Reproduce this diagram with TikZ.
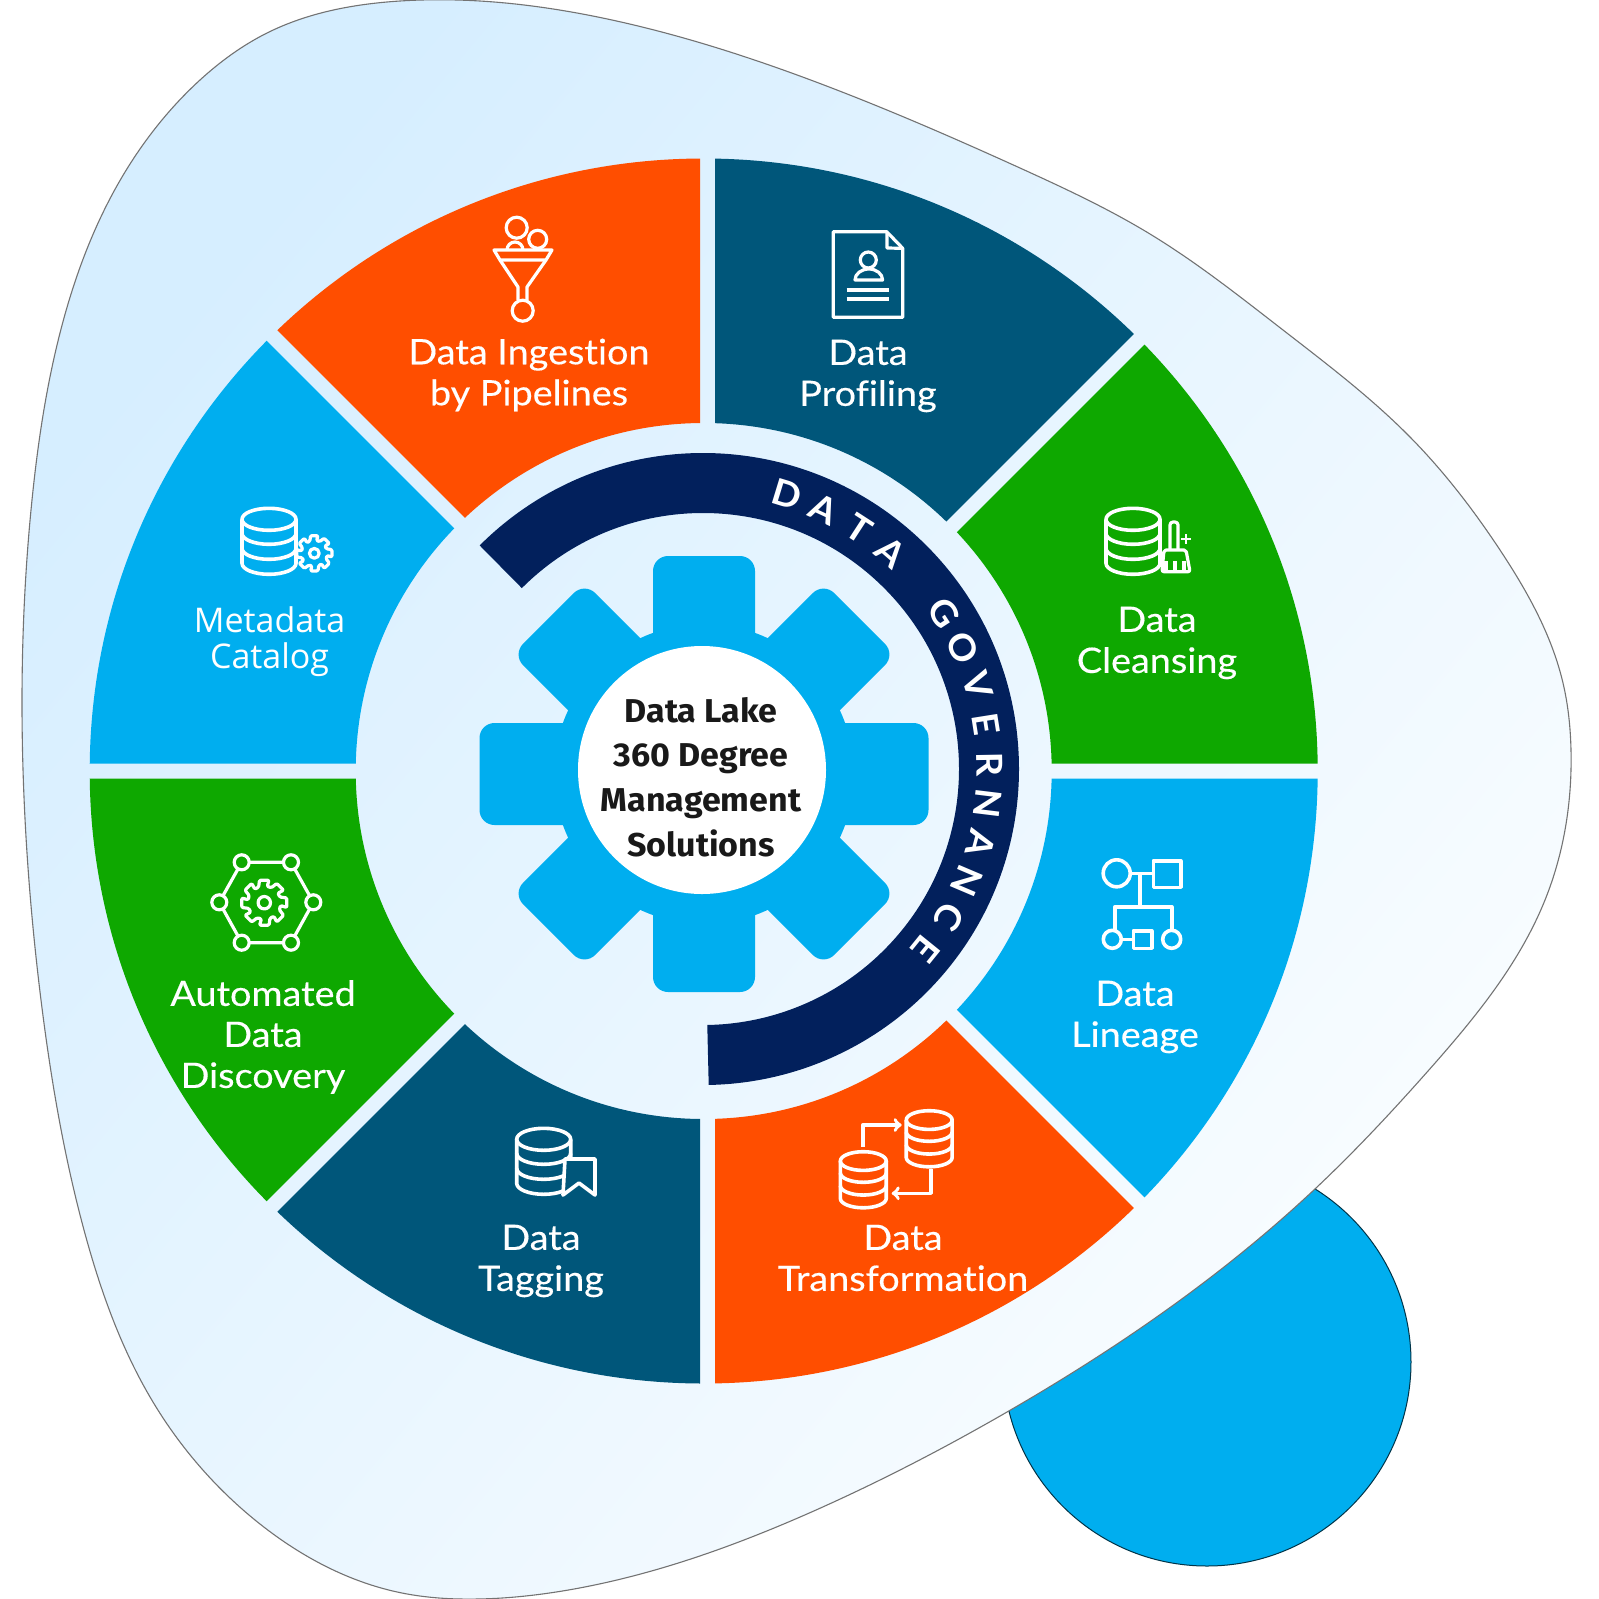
\documentclass[tikz,border=0pt]{standalone}
\usepackage{fontspec}
\usetikzlibrary{hobby}
\setmainfont{Lato}[FakeStretch=1.08, FakeBold=0.3, Ligatures=NoCommon]
\newfontfamily\ringfont{Lato}[FakeStretch=1.05]
\newfontfamily\metafont{Open Sans}
\newfontfamily\hubfont{Fira Sans}[FakeStretch=1.03]
\definecolor{segorange}{HTML}{FF4E00}
\definecolor{segteal}{HTML}{00567A}
\definecolor{seggreen}{HTML}{0EA800}
\definecolor{segblue}{HTML}{00AEEF}
\definecolor{ringnavy}{HTML}{02205C}
\definecolor{blobleft}{HTML}{D6EEFF}
\definecolor{blobright}{HTML}{FAFDFF}
\tikzset{
    seglabel/.style={text=white, align=center, font=\fontsize{35}{41}\selectfont},
    iconline/.style={draw=white, line width=3.6pt, line join=round},
    iconthin/.style={draw=white, line width=3.2pt, line join=round},
}
% database stack, top centre at (#1,#2)
\newcommand{\dbicon}[3]{
    \begin{scope}[shift={(#1,#2)}, scale=#3]
        \draw[iconline] (0,11) ellipse [x radius=27pt, y radius=11pt];
        \draw[iconline] (-27,11) -- (-27,55) arc[start angle=180, end angle=360, x radius=27pt, y radius=11pt] -- (27,11);
        \draw[iconline] (-27,25) arc[start angle=180, end angle=360, x radius=27pt, y radius=11pt];
        \draw[iconline] (-27,40) arc[start angle=180, end angle=360, x radius=27pt, y radius=11pt];
    \end{scope}
}
% small cog, centre at (#1,#2), outer radius #3
\newcommand{\cogicon}[3]{
    \begin{scope}[shift={(#1,#2)}, y=1pt]
        \draw[iconthin, rounded corners=1.2pt] (-12:#3) \foreach \t in {0,45,...,315} {
            -- (\t-12:#3) -- (\t+12:#3) -- (\t+20:{0.72*#3}) -- (\t+35:{0.72*#3})} -- cycle;
        \draw[iconthin] (0,0) circle[radius=0.27*#3 pt];
    \end{scope}
}
\begin{document}
\begin{tikzpicture}[x=1pt, y=-1pt]
    \useasboundingbox (0,0) rectangle (1599,1599);
    \fill[white] (0,0) rectangle (1599,1599);

    % circle behind the blob
    \draw[fill=segblue, draw=black!70!segblue, line width=1pt] (1207,1362) circle[radius=204pt];

    % blob
    \path[draw=black!55, line width=1.1pt, left color=blobleft, right color=blobright, shading angle=50,
          use Hobby shortcut, closed=true]
        (400,1) .. (612,20) .. (816,82) .. (1020,168) .. (1150,234) .. (1283,330) .. (1410,437)
        .. (1500,550) .. (1563,683) .. (1571,750) .. (1545,900) .. (1428,1071) .. (1316,1188)
        .. (1007,1412) .. (816,1510) .. (574,1589) .. (478,1599) .. (402,1593) .. (260,1524)
        .. (153,1402) .. (84,1230) .. (41,1000) .. (23,769) .. (32,500) .. (60,333) .. (113,193)
        .. (200,80) .. (267,33);

    % wheel segments
    \begin{scope}[shift={(703.7,771)}, y=1pt, even odd rule]
        \clip (0,0) ellipse [x radius=614pt, y radius=612.5pt] (0,0) circle[radius=348pt];
        \begin{scope}[shift={(3.8,0)}]
            \foreach \a/\col in {0/seggreen, 45/segteal, 90/segorange, 135/segblue,
                                 180/seggreen, 225/segteal, 270/segorange, 315/segblue} {
                \fill[\col] (\a+22.5:19.6) -- ([shift={(\a+90:7.5)}]\a:900) -- (\a+22.5:1300)
                    -- ([shift={(\a-45:7.5)}]\a+45:900) -- cycle;
            }
        \end{scope}
    \end{scope}

    % governance ring
    \begin{scope}[shift={(703,769)}, y=1pt]
        \draw[ringnavy, line width=60pt] (135:286) arc[start angle=135, end angle=-89, radius=286pt];
        \foreach \ch [count=\i from 0] in {D,A,T,A,{},G,O,V,E,R,N,A,N,C,E} {
            \node[text=white, font=\ringfont\bfseries\fontsize{36}{36}\selectfont, rotate=73-8*\i-90, inner sep=0pt]
                (ring-\i) at (73-8*\i:287) {\ch};
        }
    \end{scope}

    % gear
    \begin{scope}[shift={(704,774)}, y=1pt]
        \fill[segblue] (0,0) circle[radius=150pt];
        \foreach \a/\len in {0/224.5, 45/220, 90/218, 135/220} {
            \fill[segblue, rounded corners=15pt, rotate=\a] (-\len,-51) rectangle (\len,51);
        }
    \end{scope}
    \node[circle, fill=white, minimum size=248pt, inner sep=0pt] (hub) at (702,770) {};
    \node[align=center, text=black!90, font=\hubfont\bfseries\fontsize{33}{44.7}\selectfont] (hub-text) at (701,777)
        {Data Lake\\360 Degree\\Management\\Solutions};

    % labels
    \node[seglabel] (ingestion) at (529,375) {Data Ingestion\\by Pipelines};
    \node[seglabel] (profiling) at (868,376) {Data\\Profiling};
    \node[seglabel] (cleansing) at (1157,643) {Data\\Cleansing};
    \node[seglabel, font=\metafont\fontsize{34}{36}\selectfont] (catalog) at (269.6,642) {Metadata\\Catalog};
    \node[seglabel] (lineage) at (1135,1017) {Data\\Lineage};
    \node[seglabel] (discovery) at (263,1037) {Automated\\Data\\Discovery};
    \node[seglabel] (tagging) at (541,1261) {Data\\Tagging};
    \node[seglabel] (transformation) at (903,1258) {Data\\Transformation};

    % funnel icon
    \draw[iconthin] (516.7,227.7) circle[radius=10.5pt];
    \draw[iconthin] (537.7,239.3) circle[radius=9pt];
    \draw[iconthin] (507,250) arc[start angle=180, end angle=0, radius=8pt];
    \draw[iconthin] (494,250) -- (552,250) -- (546,260) -- (500,260) -- cycle;
    \draw[iconthin] (500,260) -- (518,287) -- (518,300);
    \draw[iconthin] (546,260) -- (527,287) -- (527,300);
    \draw[iconthin] (522.7,310.7) circle[radius=10.5pt];

    % profile sheet icon
    \draw[iconthin] (833.3,231.7) -- (886.7,231.7) -- (902.7,248.3) -- (902.7,317.3) -- (833.3,317.3) -- cycle;
    \draw[iconthin] (887,232) -- (887,248) -- (902.7,248.3);
    \draw[iconthin] (868.3,260) circle[radius=8pt];
    \draw[iconthin] (855,280) arc[start angle=180, end angle=0, x radius=13.8pt, y radius=11pt] -- cycle;
    \draw[iconthin] (846.7,290) -- (889.3,290);
    \draw[iconthin] (846.7,299) -- (889.3,299);

    % catalog icon
    \dbicon{269}{508.3}{1}
    \cogicon{314.3}{553.3}{18}

    % broom icon
    \dbicon{1133}{508.3}{1}
    \draw[iconthin, rounded corners=3pt] (1170,550) -- (1170,522) -- (1178,522) -- (1178,550);
    \draw[iconthin, rounded corners=2pt] (1162,571.7) -- (1164,550) -- (1186,550) -- (1190,571.7) -- cycle;
    \draw[iconthin] (1166,561) -- (1166,571) (1175,561) -- (1175,571) (1184,561) -- (1184,571);
    \draw[white, line width=2pt] (1181,539.3) -- (1191,539.3) (1186,534.3) -- (1186,544.3);

    % lineage icon
    \draw[iconline] (1116.7,873.3) circle[radius=13.5pt];
    \draw[iconline] (1153.3,860.7) rectangle (1180.7,887.3);
    \draw[iconline] (1130.2,873.3) -- (1153.3,873.3);
    \draw[iconline] (1140,873.3) -- (1140,906.7);
    \draw[iconline] (1115,930) -- (1115,906.7) -- (1171.7,906.7) -- (1171.7,930);
    \draw[iconline] (1112.3,939.3) circle[radius=9pt];
    \draw[iconline] (1133.3,930.7) rectangle (1151.7,948.3);
    \draw[iconline] (1171.7,939.3) circle[radius=9pt];
    \draw[iconline] (1121.3,939.3) -- (1133.3,939.3);

    % automated discovery icon
    \draw[iconthin] (241.7,862.3) -- (291,862.3) -- (313.3,902.3) -- (291,942.7) -- (241.7,942.7) -- (219.3,902.3) -- cycle;
    \foreach \px/\py in {241.7/862.3, 291/862.3, 313.3/902.3, 291/942.7, 241.7/942.7, 219.3/902.3} {
        \draw[iconthin, fill=seggreen] (\px,\py) circle[radius=7.5pt];
    }
    \cogicon{264.3}{902.7}{23}

    % tag icon
    \dbicon{543.7}{1128.3}{1}
    \draw[iconline, fill=segteal] (565,1159) -- (595,1159) -- (595,1195) -- (579,1183) -- (563,1195) -- cycle;

    % transformation icon
    \dbicon{863.3}{1151.7}{0.85}
    \dbicon{929.2}{1110.7}{0.85}
    \draw[iconline, ->] (862.7,1146.7) -- (862.7,1125) -- (901.7,1125);
    \draw[iconline, ->] (930.7,1169.3) -- (930.7,1193.3) -- (891.7,1193.3);
\end{tikzpicture}
\end{document}
